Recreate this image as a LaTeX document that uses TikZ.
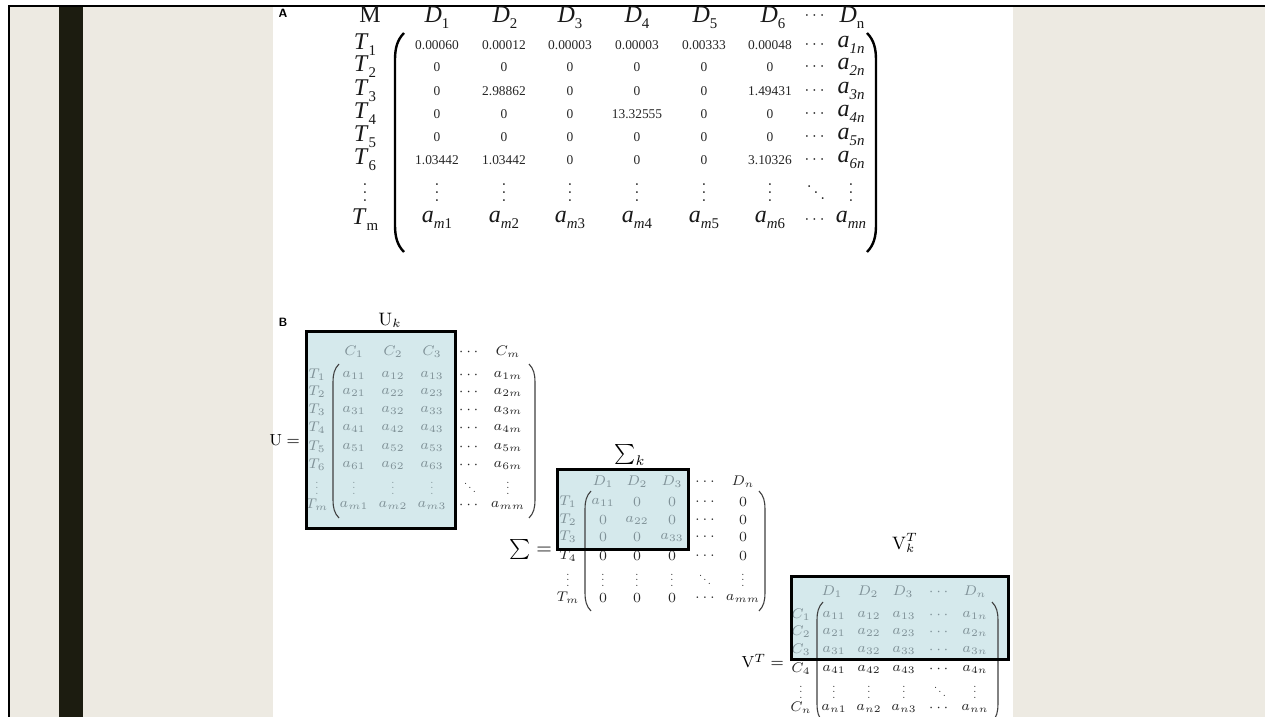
\documentclass[tikz,border=0pt]{standalone}
\usepackage{fontspec}
\usepackage{amsmath}
\newfontfamily\timesrm{Liberation Serif}
\usetikzlibrary{positioning, calc}

\definecolor{pagebeige}{RGB}{237,234,226}
\definecolor{sidebar}{RGB}{28,28,16}
\definecolor{boxblue}{RGB}{213,233,236}
\definecolor{boxtext}{RGB}{128,146,152}

% letter with a low, small subscript (panel A style)
\newcommand\lowsub[2]{#1\raisebox{-0.55ex}{\scalebox{0.62}{#2}}}
% shorter dots for the matrix rows
\newcommand\sv{\scalebox{0.7}{$\vdots$}}
\newcommand\sd{\scalebox{0.7}{$\ddots$}}
% curved bracket: x, top, bottom, direction (+1 left / -1 right), hook size
\newcommand\parenpath[5]{({#1+(#4)*(#5)},#2) .. controls ({#1+(#4)*(#5)*0.2},{#2+(#5)*0.8}) and (#1,{#2+(#5)*1.8}) .. (#1,{#2+(#5)*3}) -- (#1,{#3-(#5)*3}) .. controls (#1,{#3-(#5)*1.8}) and ({#1+(#4)*(#5)*0.2},{#3-(#5)*0.8}) .. ({#1+(#4)*(#5)},#3)}

\tikzset{
	tnum/.style={font=\timesrm\fontsize{6.7}{7.5}\selectfont, inner sep=0pt, text=black!85},
	tbig/.style={font=\timesrm\fontsize{12}{13}\selectfont, inner sep=0pt, text=black!90},
	tdot/.style={font=\fontsize{8.5}{9}\selectfont, inner sep=0pt, text=black!90},
	cell/.style={font=\fontsize{7.5}{8}\selectfont, inner sep=0pt},
	shaded/.style={cell, text=boxtext},
	plain/.style={cell, text=black!85},
	panel/.style={font=\sffamily\bfseries\fontsize{6}{7}\selectfont, inner sep=0pt},
	kbox/.style={draw=black, line width=1.5pt},
	bigparen/.style={line width=1.2pt},
	thinparen/.style={line width=0.55pt, draw=black!75},
}

\begin{document}
\begin{tikzpicture}[x=0.5pt, y=-0.5pt]
	\useasboundingbox (0,0) rectangle (1265,717);
	% ---- page background ----
	\fill[white] (0,0) rectangle (1265,717);
	\fill[pagebeige] (9,6) rectangle (1265,717);
	\fill[white] (273,6) rectangle (1013,717);
	\fill[sidebar] (59,6) rectangle (83,717);
	\draw[line width=1.2pt] (9,717) -- (9,6) -- (1265,6);

	% ---- A: term-document matrix ----
	\node[panel] (labA) at (283,13) {A};
	\node[tbig] (hM) at (370,15) {M};
	\foreach \x/\t [count=\c] in {437/1,505/2,570/3,637/4,705/5,773/6}{
		\node[tbig] (hD\c) at (\x,18) {\lowsub{\textit{D}}{\t}};
	}
	\node[tdot] (hdots) at (816,16) {$\cdots$};
	\node[tbig] (hDn) at (852,18) {\lowsub{\textit{D}}{n}};
	\foreach \y/\t [count=\r] in {45/1,67/2,91/3,114/4,137/5,160/6}{
		\node[tbig] (T\r) at (365,\y) {\lowsub{\textit{T}}{\t}};
	}
	\node[tdot] (Tv) at (365,187) {$\vdots$};
	\node[tbig] (Tm) at (365,220) {\lowsub{\textit{T}}{m}};
	\foreach \y/\row [count=\r] in {45/{0.00060,0.00012,0.00003,0.00003,0.00333,0.00048},
		67/{0,0,0,0,0,0}, 91/{0,2.98862,0,0,0,1.49431}, 114/{0,0,0,13.32555,0,0},
		137/{0,0,0,0,0,0}, 160/{1.03442,1.03442,0,0,0,3.10326}}{
		\foreach \v [count=\c] in \row {
			\pgfmathsetmacro\cx{{437,504,570,637,704,770}[\c-1]}
			\node[tnum] (A-\r-\c) at (\cx,\y) {\v};
		}
		\node[tdot] (A-\r-dots) at (816,\y) {$\cdots$};
		\node[tbig] (A-\r-n) at (851,\y) {\lowsub{\textit{a}}{\textit{\r n}}};
	}
	\foreach \x [count=\c] in {437,504,570,637,704,770}{
		\node[tdot] (A-v-\c) at (\x,187) {$\vdots$};
		\node[tbig] (A-m-\c) at (\x,220) {\lowsub{\textit{a}}{\textit{m}\c}};
	}
	\node[tdot] (A-v-dots) at (816,187) {$\ddots$};
	\node[tdot] (A-v-n) at (851,187) {$\vdots$};
	\node[tdot] (A-m-dots) at (816,220) {$\cdots$};
	\node[tbig] (A-m-n) at (851,220) {\lowsub{\textit{a}}{\textit{mn}}};
	\draw[bigparen] \parenpath{395}{33}{252}{1}{9};
	\draw[bigparen] \parenpath{876}{33}{252}{-1}{9};

	% ---- B: U matrix ----
	\node[panel] (labB) at (283,322) {B};
	\fill[boxblue] (306,331) rectangle (455,528);
	\node[font=\fontsize{9}{10}\selectfont] (Uk) at (390,320) {$\mathrm{U}_k$};
	\node[font=\fontsize{8}{9}\selectfont, anchor=east] (Ueq) at (307,440) {$\mathrm{U}=$};
	\foreach \x/\h [count=\c] in {354/C_1,393/C_2,432/C_3}{
		\node[shaded] (U-h-\c) at (\x,352) {$\h$};
	}
	\node[plain] (U-h-4) at (470,352) {$\cdots$};
	\node[plain] (U-h-5) at (508,352) {$C_m$};
	\foreach \y/\t/\ea/\eb/\ec/\ed/\ee [count=\r] in {
		375/T_1/a_{11}/a_{12}/a_{13}/\cdots/a_{1m},
		392/T_2/a_{21}/a_{22}/a_{23}/\cdots/a_{2m},
		410/T_3/a_{31}/a_{32}/a_{33}/\cdots/a_{3m},
		428/T_4/a_{41}/a_{42}/a_{43}/\cdots/a_{4m},
		447/T_5/a_{51}/a_{52}/a_{53}/\cdots/a_{5m},
		465/T_6/a_{61}/a_{62}/a_{63}/\cdots/a_{6m},
		484/\sv/\sv/\sv/\sv/\sd/\sv,
		505/T_m/a_{m1}/a_{m2}/a_{m3}/\cdots/a_{mm}}{
		\node[shaded] (U-\r-0) at (317,\y) {$\t$};
		\node[shaded] (U-\r-1) at (354,\y) {$\ea$};
		\node[shaded] (U-\r-2) at (393,\y) {$\eb$};
		\node[shaded] (U-\r-3) at (432,\y) {$\ec$};
		\node[plain] (U-\r-4) at (470,\y) {$\ed$};
		\node[plain] (U-\r-5) at (508,\y) {$\ee$};
	}
	\draw[thinparen] \parenpath{333}{364}{518}{1}{6};
	\draw[thinparen] \parenpath{535}{364}{518}{-1}{6};
	\draw[kbox] (306,331) rectangle (455,528);

	% ---- B: Sigma matrix ----
	\fill[boxblue] (557,469) rectangle (688,549);
	\node[font=\fontsize{10}{11}\selectfont] (Sk) at (630,455) {$\textstyle\sum_k$};
	\node[font=\fontsize{10}{11}\selectfont, anchor=east] (Seq) at (559,549) {$\textstyle\sum=$};
	\foreach \x/\h [count=\c] in {603/D_1,637/D_2,672/D_3}{
		\node[shaded] (S-h-\c) at (\x,482) {$\h$};
	}
	\node[plain] (S-h-4) at (705,482) {$\ldots$};
	\node[plain] (S-h-5) at (743,482) {$D_n$};
	\foreach \y/\st/\t/\ea/\eb/\ec/\ed/\ee [count=\r] in {
		502/shaded/T_1/a_{11}/0/0/\ldots/0,
		520/shaded/T_2/0/a_{22}/0/\ldots/0,
		537/shaded/T_3/0/0/a_{33}/\ldots/0,
		556/plain/T_4/0/0/0/\ldots/0,
		576/plain/\sv/\sv/\sv/\sv/\sd/\sv,
		598/plain/T_m/0/0/0/\ldots/a_{mm}}{
		\node[\st] (S-\r-0) at (568,\y) {$\t$};
		\node[\st] (S-\r-1) at (603,\y) {$\ea$};
		\node[\st] (S-\r-2) at (637,\y) {$\eb$};
		\node[\st] (S-\r-3) at (672,\y) {$\ec$};
		\node[plain] (S-\r-4) at (705,\y) {$\ed$};
		\node[plain] (S-\r-5) at (743,\y) {$\ee$};
	}
	\draw[thinparen] \parenpath{585}{491}{611}{1}{6};
	\draw[thinparen] \parenpath{765}{491}{611}{-1}{6};
	\draw[kbox] (557,469) rectangle (688,549);

	% ---- B: V transposed ----
	\fill[boxblue] (791,576) rectangle (1008,659);
	\node[font=\fontsize{9}{10}\selectfont] (Vk) at (905,543) {$\mathrm{V}_k^T$};
	\node[font=\fontsize{8}{9}\selectfont, anchor=east] (Veq) at (791,661) {$\mathrm{V}^T=$};
	\foreach \x/\h [count=\c] in {832/D_1,868/D_2,903/D_3,940/\cdots,975/D_n}{
		\node[shaded] (V-h-\c) at (\x,592) {$\h$};
	}
	\foreach \y/\st/\t/\ea/\eb/\ec/\ed/\ee [count=\r] in {
		615/shaded/C_1/a_{11}/a_{12}/a_{13}/\cdots/a_{1n},
		632/shaded/C_2/a_{21}/a_{22}/a_{23}/\cdots/a_{2n},
		650/shaded/C_3/a_{31}/a_{32}/a_{33}/\cdots/a_{3n},
		669/plain/C_4/a_{41}/a_{42}/a_{43}/\cdots/a_{4n},
		688/plain/\sv/\sv/\sv/\sv/\sd/\sv,
		708/plain/C_n/a_{n1}/a_{n2}/a_{n3}/\cdots/a_{nn}}{
		\node[\st] (V-\r-0) at (801,\y) {$\t$};
		\node[\st] (V-\r-1) at (834,\y) {$\ea$};
		\node[\st] (V-\r-2) at (869,\y) {$\eb$};
		\node[\st] (V-\r-3) at (904,\y) {$\ec$};
		\node[\st] (V-\r-4) at (940,\y) {$\ed$};
		\node[\st] (V-\r-5) at (975,\y) {$\ee$};
	}
	\draw[thinparen] \parenpath{817}{602}{722}{1}{6};
	\draw[thinparen] \parenpath{998}{602}{722}{-1}{6};
	\draw[kbox] (791,576) rectangle (1008,659);
\end{tikzpicture}
\end{document}
